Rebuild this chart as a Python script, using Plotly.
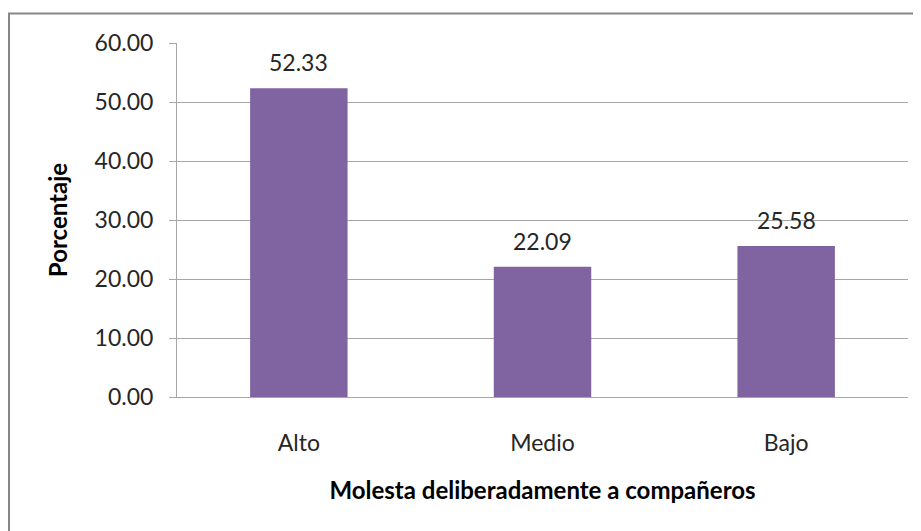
import plotly.graph_objects as go

categories = ["Alto", "Medio", "Bajo"]
values = [52.33, 22.09, 25.58]
tick_vals = [0, 10, 20, 30, 40, 50, 60]
tick_text = ["0.00", "10.00", "20.00", "30.00", "40.00", "50.00", "60.00"]

FONT = "Lato, 'Noto Sans', sans-serif"
OFF = 8  # page body margin
W, H = 921 - OFF, 531 - OFF
# target screen positions
SX0, SX1, SY0, SY1 = 177, 908, 43, 397
L = SX0 - OFF
R = W - (SX1 - OFF)
T = SY0 - OFF
B = H - (SY1 - OFF)
pw, ph = SX1 - SX0, SY1 - SY0

fig = go.Figure(go.Bar(
    x=categories, y=values,
    marker=dict(color="#8064A2", line=dict(width=0)),
    width=0.4,
    hoverinfo="x+y",
))

for c, v in zip(categories, values):
    fig.add_annotation(x=c, y=v, text=f"{v:.2f}", showarrow=False,
                       yanchor="bottom", yshift=10,
                       font=dict(family=FONT, size=23, color="#262626"))

fig.update_layout(
    width=W, height=H,
    margin=dict(l=L, r=R, t=T, b=B, autoexpand=False),
    paper_bgcolor="white", plot_bgcolor="white",
    showlegend=False,
    font=dict(family=FONT, color="#262626"),
    shapes=[dict(type="rect", xref="paper", yref="paper",
                 x0=(OFF + 1 - SX0) / pw, x1=(940 - SX0) / pw,
                 y0=(SY1 - 560) / ph, y1=(SY1 - 13.5) / ph,
                 line=dict(color="#878787", width=2), fillcolor="rgba(0,0,0,0)",
                 layer="below")],
)

fig.update_yaxes(
    range=[0, 60], tickvals=tick_vals, ticktext=tick_text,
    showgrid=True, gridcolor="#a6a6a6", gridwidth=1,
    showline=True, linecolor="#a6a6a6", linewidth=1,
    ticks="outside", ticklen=7, tickcolor="#a6a6a6",
    ticklabelstandoff=11,
    tickfont=dict(family=FONT, size=23, color="#262626"),
    zeroline=False,
    title=dict(text="<b>Porcentaje</b>", font=dict(family=FONT, size=24, color="#000000"), standoff=20),
)
fig.update_xaxes(
    showline=True, linecolor="#a6a6a6", linewidth=1,
    ticks="", showgrid=False,
    ticklabelstandoff=25,
    tickfont=dict(family=FONT, size=23, color="#262626"),
    title=dict(text="<b>Molesta deliberadamente a compañeros</b>",
               font=dict(family=FONT, size=24, color="#000000"), standoff=27),
)

fig.write_html("out.html")
